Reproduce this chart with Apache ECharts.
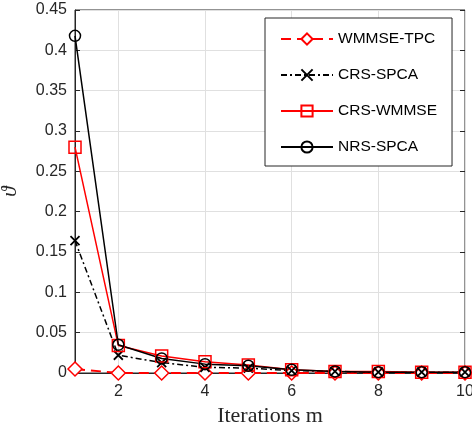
<!DOCTYPE html>
<html><head><meta charset="utf-8">
<script src="https://cdn.jsdelivr.net/npm/echarts@6/dist/echarts.min.js"></script>
<style>html,body{margin:0;padding:0;background:#fff}#c{width:472px;height:423px}</style>
</head><body><div id="c"></div>
<script>
const iterations = ['1','2','3','4','5','6','7','8','9','10'];
const wmmseTpc  = [0.005, 0.0, 0.0, 0.0, 0.0, 0.0, 0.0, 0.0, 0.0, 0.0];
const crsSpca   = [0.164, 0.022, 0.013, 0.007, 0.006, 0.003, 0.002, 0.001, 0.001, 0.001];
const crsWmmse  = [0.280, 0.034, 0.021, 0.014, 0.010, 0.004, 0.002, 0.002, 0.001, 0.001];
const nrsSpca   = [0.418, 0.035, 0.018, 0.011, 0.009, 0.004, 0.002, 0.001, 0.001, 0.001];
const yTicks = { min: 0, max: 0.45, interval: 0.05 };

const axisColor = '#262626';
const gridColor = '#e0e0e0';
const sans = 'Liberation Sans';
const serif = 'Liberation Serif';
const even = (i) => i % 2 === 1;
const crossPath = 'path://M0,0L10,10M10,0L0,10';

const chart = echarts.init(document.getElementById('c'));
chart.setOption({
  animation: false,
  grid: { left: 75, right: 7, top: 10, bottom: 50, containLabel: false, outerBoundsMode: 'none',
          show: true, borderColor: axisColor, borderWidth: 1, backgroundColor: 'transparent' },
  xAxis: [{
    type: 'category', data: iterations, boundaryGap: false,
    name: 'Iterations m', nameLocation: 'middle', nameGap: 28,
    nameTextStyle: { fontFamily: serif, fontSize: 22, color: axisColor },
    axisLine: { lineStyle: { color: axisColor } },
    axisTick: { inside: true, length: 5, interval: even, lineStyle: { color: axisColor } },
    axisLabel: { interval: even, fontFamily: sans, fontSize: 16, color: axisColor, margin: 11 },
    splitLine: { show: true, interval: even, lineStyle: { color: gridColor } }
  }, {
    type: 'category', data: iterations, boundaryGap: false, position: 'top',
    axisLine: { show: false },
    axisTick: { inside: true, length: 5, interval: even, lineStyle: { color: axisColor } },
    axisLabel: { show: false }, splitLine: { show: false }
  }],
  yAxis: [{
    type: 'value', min: yTicks.min, max: yTicks.max, interval: yTicks.interval,
    name: 'ϑ', nameLocation: 'middle', nameGap: 54, nameRotate: 90,
    nameTextStyle: { fontFamily: serif, fontStyle: 'italic', fontSize: 21, color: axisColor },
    axisLine: { show: true, lineStyle: { color: axisColor } },
    axisTick: { show: true, inside: true, length: 5, lineStyle: { color: axisColor } },
    axisLabel: { fontFamily: sans, fontSize: 16, color: axisColor, margin: 8 },
    splitLine: { show: true, lineStyle: { color: gridColor } }
  }, {
    type: 'value', min: yTicks.min, max: yTicks.max, interval: yTicks.interval, position: 'right',
    axisLine: { show: false },
    axisTick: { show: true, inside: true, length: 5, lineStyle: { color: axisColor } },
    axisLabel: { show: false }, splitLine: { show: false }
  }],
  legend: {
    orient: 'vertical', left: 265, top: 18,
    padding: [13, 15, 11, 15],
    borderColor: axisColor, borderWidth: 1, backgroundColor: '#fff',
    itemWidth: 52, itemHeight: 14, itemGap: 20,
    textStyle: { fontFamily: sans, fontSize: 15.5, color: '#000' },
    data: ['WMMSE-TPC', 'CRS-SPCA', 'CRS-WMMSE', 'NRS-SPCA']
  },
  series: [{
    name: 'WMMSE-TPC', type: 'line', data: wmmseTpc,
    symbol: 'diamond', symbolSize: 14, showAllSymbol: true,
    lineStyle: { color: '#ff0000', width: 2, type: [10, 6] },
    itemStyle: { color: '#fff', borderColor: '#ff0000', borderWidth: 1.5 }
  }, {
    name: 'CRS-SPCA', type: 'line', data: crsSpca,
    symbol: crossPath, symbolSize: 9, showAllSymbol: true,
    lineStyle: { color: '#000', width: 1.5, type: [6, 3, 2, 3] },
    itemStyle: { color: 'transparent', borderColor: '#000', borderWidth: 1.8 }
  }, {
    name: 'CRS-WMMSE', type: 'line', data: crsWmmse,
    symbol: 'rect', symbolSize: 12, showAllSymbol: true,
    lineStyle: { color: '#ff0000', width: 1.5 },
    itemStyle: { color: 'transparent', borderColor: '#ff0000', borderWidth: 1.5 }
  }, {
    name: 'NRS-SPCA', type: 'line', data: nrsSpca,
    symbol: 'circle', symbolSize: 11, showAllSymbol: true,
    lineStyle: { color: '#000', width: 1.5 },
    itemStyle: { color: 'transparent', borderColor: '#000', borderWidth: 1.5 }
  }]
});
</script></body></html>
